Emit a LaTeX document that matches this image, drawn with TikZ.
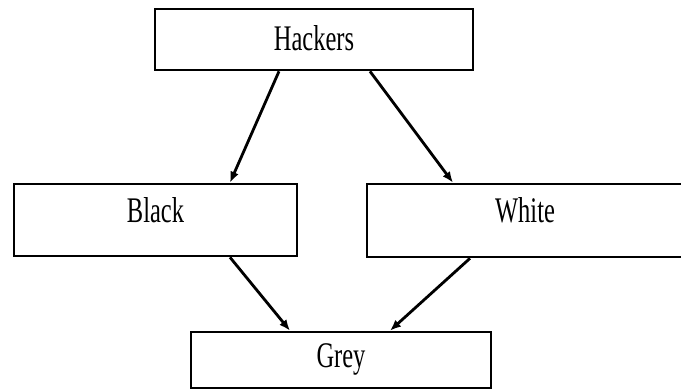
\documentclass[tikz,border=0pt]{standalone}
\usepackage{fontspec}
\usepackage{tikz}
\usetikzlibrary{arrows.meta}
\newfontfamily\boxfont[FakeStretch=0.68]{Liberation Serif}

\begin{document}
\begin{tikzpicture}[
    x=0.02cm, y=-0.02cm,
    font=\boxfont\fontsize{20.5}{24}\selectfont,
    kind/.style={draw=black, line width=1.5pt, inner sep=0pt, anchor=base},
    link/.style={line width=1.6pt, -{Latex[length=11*\px, width=9*\px]}},
  ]

  \def\px{0.02cm}

  \useasboundingbox (0,0) rectangle (681,390);

  % --- boxes ---
  \node[kind, minimum width=318*\px, text height=41*\px, text depth=20*\px]
    (hackers) at (314,50) {Hackers};
  \node[kind, minimum width=283*\px, text height=38*\px, text depth=34*\px]
    (black) at (155.5,222) {Black};
  \node[kind, minimum width=316*\px, text height=38*\px, text depth=35*\px]
    (white) at (525,222) {White};
  \node[kind, minimum width=300*\px, text height=35*\px, text depth=21*\px]
    (grey) at (341,367) {Grey};

  % --- arrows ---
  \draw[link] ([xshift=-35*\px]hackers.south) -- ([xshift=74.5*\px]black.north);
  \draw[link] ([xshift=56*\px]hackers.south) -- ([xshift=-72*\px]white.north);
  \draw[link] ([xshift=74.5*\px]black.south) -- ([xshift=-51*\px]grey.north);
  \draw[link] ([xshift=-55*\px]white.south) -- ([xshift=49*\px]grey.north);

\end{tikzpicture}
\end{document}
